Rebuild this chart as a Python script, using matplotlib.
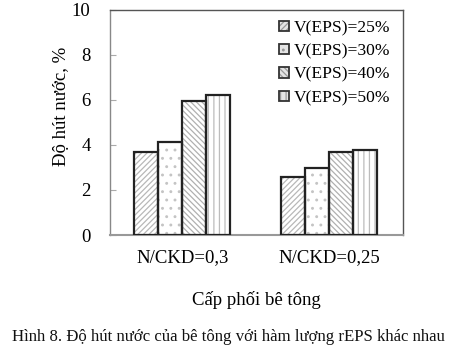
import numpy as np
import matplotlib
matplotlib.use("Agg")
import matplotlib.pyplot as plt
from matplotlib.legend_handler import HandlerTuple

plt.rcParams['font.family'] = ['Liberation Serif', 'DejaVu Serif']
plt.rcParams['hatch.linewidth'] = 0.9

groups = ["N/CKD=0,3", "N/CKD=0,25"]
series = ["V(EPS)=25%", "V(EPS)=30%", "V(EPS)=40%", "V(EPS)=50%"]
v25 = [3.69, 2.58]
v30 = [4.13, 2.98]
v40 = [5.96, 3.69]
v50 = [6.22, 3.78]
values = [v25, v30, v40, v50]
hatches = ["//////", "..", "\\\\\\\\\\\\", "|||"]
hatch_colors = ["#b8b8b8", "#c4c4c4", "#b0b0b0", "#bcbcbc"]

fig = plt.figure(figsize=(4.57, 3.5), dpi=100)
ax = fig.add_axes([110 / 457, 115 / 350, 293 / 457, 225 / 350])

x = np.arange(len(groups))
w = 0.163
handles = []
for i, vals in enumerate(values):
    pos = x + (i - 1.5) * w
    ax.bar(pos, vals, w, color="white", edgecolor=hatch_colors[i],
           hatch=hatches[i], linewidth=0, zorder=2)
    ax.bar(pos, vals, w, color="none", edgecolor="#222222", linewidth=1.6, zorder=3)
    h1 = plt.Rectangle((0, 0), 1, 1, facecolor="#e4e4e4", edgecolor="#999999",
                       hatch=hatches[i], linewidth=0)
    h2 = plt.Rectangle((0, 0), 1, 1, facecolor="none", edgecolor="#333333", linewidth=1.3)
    handles.append((h1, h2))

ax.set_xlim(-0.49, 1.5)
ax.set_ylim(0, 10)
ax.set_yticks([0, 2, 4, 6, 8, 10])
ax.set_xticks(x)
ax.set_xticklabels(groups, fontsize=13.5)
ax.tick_params(axis='x', length=0, pad=10)
ax.tick_params(axis='y', direction='in', length=4, labelsize=13.5, color="#aaaaaa", pad=14)
for s in ax.spines.values():
    s.set_color("#555555")
    s.set_linewidth(1.0)
ax.spines['bottom'].set_color("#999999")
ax.spines['bottom'].set_linewidth(1.5)
ax.spines['left'].set_color("#888888")

ax.set_ylabel("Độ hút nước, %", fontsize=13.5)
ax.yaxis.set_label_coords(-0.135, 0.57)
ax.set_xlabel("Cấp phối bê tông", fontsize=13.5, labelpad=18)

ax.legend(handles, series, handler_map={tuple: HandlerTuple(ndivide=1)},
          loc="upper right", frameon=False, fontsize=12.6, handlelength=0.55,
          handleheight=0.55, handletextpad=0.3, labelspacing=0.42,
          bbox_to_anchor=(1.0, 1.01), borderaxespad=0.3)

fig.text(0.5, 13 / 350, "Hình 8. Độ hút nước của bê tông với hàm lượng rEPS khác nhau",
         ha="center", va="center", fontsize=12.1, color="#111111")

fig.savefig("out.png", dpi=100, facecolor="white")
